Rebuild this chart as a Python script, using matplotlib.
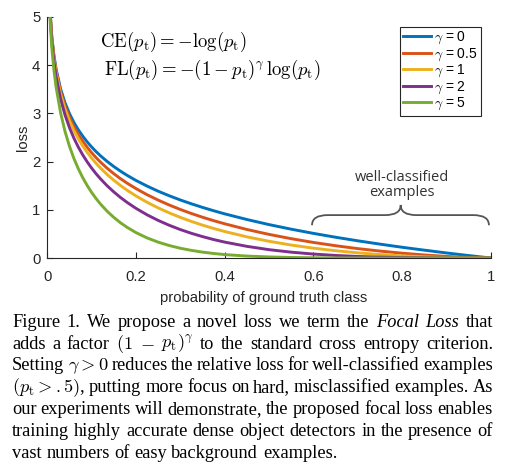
import matplotlib
matplotlib.use('Agg')
import matplotlib.pyplot as plt
from matplotlib.path import Path
import matplotlib.patches as mpatches

plt.rcParams['mathtext.fontset'] = 'cm'
plt.rcParams['font.family'] = 'Liberation Sans'

# probability of ground truth class (sampled along the curves)
p = [0.005, 0.01, 0.015, 0.02, 0.03, 0.04, 0.05, 0.06, 0.07, 0.08, 0.09, 0.1, 0.11, 0.12, 0.135, 0.15,
     0.165, 0.18, 0.2, 0.225, 0.25, 0.275, 0.3, 0.325, 0.35, 0.375, 0.4, 0.45, 0.5, 0.55, 0.6, 0.65,
     0.7, 0.75, 0.8, 0.85, 0.9, 0.95, 1.0]

# loss values read for each gamma
loss_g0 = [5.298, 4.605, 4.200, 3.912, 3.507, 3.219, 2.996, 2.813, 2.659, 2.526, 2.408, 2.303, 2.207, 2.120,
           2.003, 1.897, 1.802, 1.715, 1.609, 1.492, 1.386, 1.291, 1.204, 1.124, 1.050, 0.981, 0.916, 0.799,
           0.693, 0.598, 0.511, 0.431, 0.357, 0.288, 0.223, 0.163, 0.105, 0.051, 0.0]
loss_g05 = [5.285, 4.582, 4.168, 3.873, 3.454, 3.154, 2.920, 2.728, 2.565, 2.423, 2.297, 2.184, 2.082, 1.989,
            1.862, 1.749, 1.646, 1.553, 1.440, 1.313, 1.201, 1.099, 1.007, 0.923, 0.846, 0.775, 0.710, 0.592,
            0.490, 0.401, 0.323, 0.255, 0.195, 0.144, 0.100, 0.063, 0.033, 0.012, 0.0]
loss_g1 = [5.272, 4.559, 4.137, 3.834, 3.401, 3.090, 2.846, 2.645, 2.473, 2.324, 2.191, 2.072, 1.964, 1.866,
           1.732, 1.613, 1.505, 1.406, 1.288, 1.156, 1.040, 0.936, 0.843, 0.759, 0.682, 0.613, 0.550, 0.439,
           0.347, 0.269, 0.204, 0.151, 0.107, 0.072, 0.045, 0.024, 0.011, 0.003, 0.0]
loss_g2 = [5.245, 4.514, 4.075, 3.757, 3.299, 2.967, 2.704, 2.486, 2.300, 2.138, 1.994, 1.865, 1.748, 1.642,
           1.498, 1.371, 1.256, 1.153, 1.030, 0.896, 0.780, 0.679, 0.590, 0.512, 0.444, 0.383, 0.330, 0.242,
           0.173, 0.121, 0.082, 0.053, 0.032, 0.018, 0.009, 0.004, 0.001, 0.0, 0.0]
loss_g5 = [5.167, 4.379, 3.894, 3.536, 3.011, 2.625, 2.318, 2.065, 1.850, 1.665, 1.503, 1.360, 1.233, 1.119,
           0.970, 0.842, 0.731, 0.636, 0.527, 0.417, 0.329, 0.259, 0.202, 0.158, 0.122, 0.094, 0.071, 0.040,
           0.022, 0.011, 0.005, 0.002, 0.001, 0.0, 0.0, 0.0, 0.0, 0.0, 0.0]

series = [loss_g0, loss_g05, loss_g1, loss_g2, loss_g5]
labels = [r'$\gamma$ = 0', r'$\gamma$ = 0.5', r'$\gamma$ = 1', r'$\gamma$ = 2', r'$\gamma$ = 5']
colors = ['#0072BD', '#D95319', '#EDB120', '#7E2F8E', '#77AC30']

xticks = [0, 0.2, 0.4, 0.6, 0.8, 1]
xticklabels = ['0', '0.2', '0.4', '0.6', '0.8', '1']
yticks = [0, 1, 2, 3, 4, 5]

caption = [
    "Figure 1. We propose a novel loss we term the _Focal _Loss that",
    r"adds a factor $(1$ $-$ $p_\mathrm{t})^{\gamma}$ to the standard cross entropy criterion.",
    r"Setting $\gamma>0$ reduces the relative loss for well-classified examples",
    r"$(p_\mathrm{t}>.5)$, putting more focus on hard, misclassified examples. As",
    "our experiments will demonstrate, the proposed focal loss enables",
    "training highly accurate dense object detectors in the presence of",
    "vast numbers of easy background examples.",
]

W, H = 506, 475
fig = plt.figure(figsize=(W / 100, H / 100), dpi=100)
ax = fig.add_axes([47.3 / W, 1 - 258 / H, 443.4 / W, 241 / H])

for ys, lab, c in zip(series, labels, colors):
    ax.plot(p, ys, color=c, lw=2.1, label=lab)

ax.set_xlim(0, 1)
ax.set_ylim(0, 5)
ax.set_xticks(xticks)
ax.set_xticklabels(xticklabels)
ax.set_yticks(yticks)
for s in ['top', 'right']:
    ax.spines[s].set_visible(False)
for s in ['left', 'bottom']:
    ax.spines[s].set_color('#262626')
    ax.spines[s].set_linewidth(0.8)
ax.tick_params(direction='in', length=4, width=0.8, color='#262626', labelcolor='#262626', labelsize=10.7)
ax.tick_params(axis='x', pad=8.5)
ax.tick_params(axis='y', pad=5)
ax.set_xlabel('probability of ground truth class', fontsize=10.7, color='#262626')
ax.set_ylabel('loss', fontsize=10.7, color='#262626')
ax.xaxis.set_label_coords(0.4876, -0.137)
ax.yaxis.set_label_coords(-0.04, 0.5)

ax.text(0.119, 4.49, r'$\mathrm{CE}(p_{\mathrm{t}}) = -\log(p_{\mathrm{t}})$', fontsize=13.5, va='center')
ax.text(0.128, 3.90, r'$\mathrm{FL}(p_{\mathrm{t}}) = -(1-p_{\mathrm{t}})^{\gamma}\,\log(p_{\mathrm{t}})$',
        fontsize=13.5, va='center')

# brace over the well-classified region
x0, x1, xm = 0.597, 0.996, 0.797
ye, yb, yt = 0.68, 0.89, 1.10
verts = [(x0, ye), (x0, yb), (x0 + 0.035, yb), (xm - 0.035, yb), (xm, yb), (xm, yt),
         (xm, yb), (xm + 0.035, yb), (x1 - 0.035, yb), (x1, yb), (x1, ye)]
codes = [Path.MOVETO, Path.CURVE3, Path.CURVE3, Path.LINETO, Path.CURVE3, Path.CURVE3,
         Path.CURVE3, Path.CURVE3, Path.LINETO, Path.CURVE3, Path.CURVE3]
ax.add_patch(mpatches.PathPatch(Path(verts, codes), fill=False, ec='#555555', lw=1.3))
ax.text(0.80, 1.68, 'well-classified', family='Open Sans', fontsize=10.5, color='#333333',
        ha='center', va='center')
ax.text(0.80, 1.35, 'examples', family='Open Sans', fontsize=10.5, color='#333333',
        ha='center', va='center')

leg = ax.legend(loc='upper right', bbox_to_anchor=(481 / W, 1 - 26.7 / H), bbox_transform=fig.transFigure,
                fontsize=10, handlelength=2.0, handletextpad=0.2, labelspacing=0.02,
                borderpad=0.25, borderaxespad=0, fancybox=False, framealpha=1)
leg.get_frame().set_edgecolor('#262626')
leg.get_frame().set_linewidth(0.8)

# caption, justified like the paper
r = fig.canvas.get_renderer()
left, right = 12, 493
fs = 13.2
for i, line in enumerate(caption):
    ybase = 1 - (326.7 + i * 21.9) / H
    items = []
    for w in line.split(' '):
        st = 'normal'
        if w.startswith('_'):
            w = w[1:]
            st = 'italic'
        t = fig.text(0, ybase, w, family='Liberation Serif', fontsize=fs, style=st, va='baseline')
        items.append(t)
    widths = [t.get_window_extent(renderer=r).width for t in items]
    if i < len(caption) - 1:
        gap = (right - left - sum(widths)) / (len(items) - 1)
    else:
        gap = 0.25 * fs * 100 / 72
    x = left
    for t, w in zip(items, widths):
        t.set_x(x / W)
        x += w + gap

fig.savefig('out.png', dpi=100)
